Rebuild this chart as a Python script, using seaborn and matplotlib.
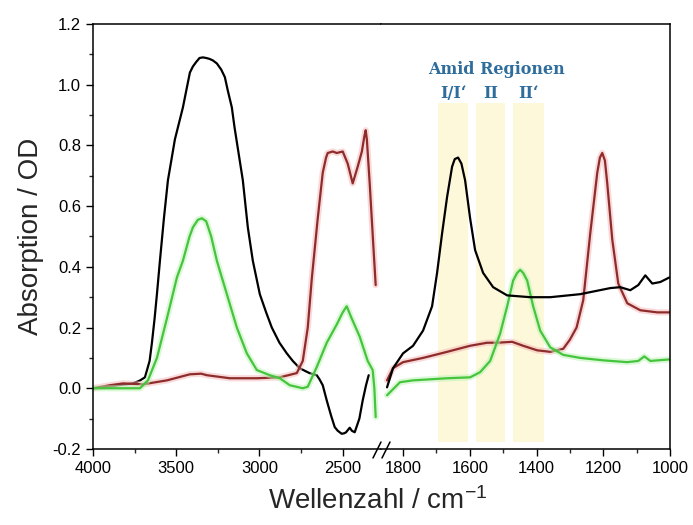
import numpy as np
import pandas as pd
import matplotlib
matplotlib.use("Agg")
import matplotlib.pyplot as plt
import matplotlib.patheffects as pe
from matplotlib.ticker import MultipleLocator, FormatStrFormatter
import seaborn as sns

# spectra, left part (4000 - 2300 cm-1)
black_l_x = [4000, 3900, 3850, 3760, 3720, 3688, 3660, 3646, 3630, 3616, 3598, 3574, 3550, 3508, 3460,
             3440, 3418, 3400, 3380, 3360, 3340, 3320, 3300, 3280, 3256, 3230, 3208, 3190, 3166, 3150,
             3130, 3100, 3070, 3040, 2998, 2960, 2926, 2880, 2836, 2800, 2758, 2700, 2656, 2640, 2620,
             2596, 2570, 2548, 2530, 2506, 2490, 2480, 2458, 2445, 2428, 2400, 2380, 2360, 2344]
black_l_y = [0.0, 0.005, 0.01, 0.016, 0.025, 0.036, 0.09, 0.15, 0.23, 0.31, 0.42, 0.56, 0.685, 0.82, 0.925,
             0.98, 1.04, 1.06, 1.075, 1.088, 1.09, 1.088, 1.085, 1.08, 1.07, 1.05, 1.025, 0.98, 0.925, 0.86,
             0.79, 0.685, 0.53, 0.42, 0.31, 0.25, 0.2, 0.15, 0.115, 0.09, 0.066, 0.05, 0.043, 0.03, 0.01,
             -0.04, -0.09, -0.128, -0.14, -0.15, -0.148, -0.145, -0.13, -0.14, -0.145, -0.1, -0.04, 0.01, 0.043]

green_l_x = [4000, 3850, 3718, 3670, 3616, 3556, 3496, 3460, 3420, 3400, 3370, 3346, 3320, 3290, 3256,
             3196, 3136, 3076, 3016, 2938, 2878, 2818, 2740, 2710, 2656, 2596, 2536, 2500, 2476, 2446,
             2398, 2350, 2320, 2310, 2302]
green_l_y = [0.0, 0.0, 0.0, 0.026, 0.1, 0.23, 0.365, 0.42, 0.5, 0.53, 0.555, 0.56, 0.55, 0.5, 0.42,
             0.31, 0.2, 0.115, 0.06, 0.043, 0.033, 0.01, 0.0, 0.005, 0.07, 0.15, 0.21, 0.25, 0.27, 0.23,
             0.17, 0.09, 0.06, 0.0, -0.095]

red_l_x = [4000, 3898, 3820, 3700, 3556, 3418, 3350, 3316, 3178, 3016, 2878, 2776, 2740, 2710, 2686,
           2650, 2620, 2600, 2590, 2560, 2536, 2500, 2470, 2440, 2410, 2385, 2370, 2362, 2355, 2338,
           2314, 2302]
red_l_y = [0.0, 0.01, 0.016, 0.013, 0.026, 0.046, 0.048, 0.043, 0.033, 0.033, 0.036, 0.05, 0.09, 0.2, 0.36,
           0.56, 0.71, 0.76, 0.775, 0.78, 0.775, 0.78, 0.74, 0.675, 0.73, 0.78, 0.83, 0.85, 0.82, 0.675,
           0.45, 0.34]

# right part (1850 - 1000 cm-1)
black_r_x = [1848, 1830, 1800, 1770, 1740, 1713, 1698, 1683, 1668, 1653, 1645, 1635, 1625, 1614, 1599,
             1584, 1560, 1530, 1488, 1419, 1359, 1269, 1179, 1149, 1119, 1095, 1074, 1053, 1029, 1002]
black_r_y = [0.003, 0.066, 0.115, 0.14, 0.19, 0.27, 0.38, 0.51, 0.63, 0.73, 0.755, 0.76, 0.74, 0.685, 0.56,
             0.455, 0.38, 0.333, 0.306, 0.30, 0.30, 0.31, 0.33, 0.333, 0.323, 0.34, 0.372, 0.345, 0.35, 0.365]

red_r_x = [1848, 1830, 1800, 1740, 1668, 1599, 1548, 1518, 1473, 1440, 1398, 1359, 1320, 1300, 1280,
           1260, 1239, 1218, 1210, 1203, 1195, 1188, 1173, 1155, 1128, 1089, 1038, 1002]
red_r_y = [0.026, 0.066, 0.086, 0.1, 0.12, 0.14, 0.15, 0.15, 0.153, 0.14, 0.125, 0.12, 0.13, 0.16, 0.2,
           0.29, 0.51, 0.71, 0.76, 0.775, 0.75, 0.675, 0.49, 0.345, 0.28, 0.257, 0.25, 0.25]

green_r_x = [1848, 1809, 1770, 1668, 1599, 1569, 1539, 1509, 1488, 1470, 1458, 1449, 1440, 1428, 1410,
             1389, 1359, 1320, 1269, 1200, 1128, 1095, 1077, 1059, 1002]
green_r_y = [-0.023, 0.02, 0.026, 0.033, 0.036, 0.053, 0.09, 0.18, 0.27, 0.355, 0.38, 0.39, 0.38, 0.355, 0.27,
             0.19, 0.135, 0.11, 0.1, 0.092, 0.086, 0.09, 0.105, 0.09, 0.095]

# amide regions
band_start = [1695, 1581, 1470]
band_end = [1605, 1494, 1377]
band_labels = ["I/I\u2018", "II", "II\u2018"]

sns.set_style("ticks")
plt.rcParams['font.family'] = ['Liberation Sans', 'DejaVu Sans']
plt.rcParams['mathtext.default'] = 'regular'

fig = plt.figure(figsize=(6.93, 5.25), dpi=100)
axl = fig.add_axes([0.1342, 0.1448, 0.4156, 0.8095])
axr = fig.add_axes([0.5498, 0.1448, 0.4170, 0.8095])

def glow(col):
    return [pe.Stroke(linewidth=4.5, foreground=col, alpha=0.5), pe.Normal()]

red = '#8e2c2c'
green = '#46c43e'

sns.lineplot(x=black_l_x, y=black_l_y, ax=axl, color='black', lw=1.6, sort=False, estimator=None)
sns.lineplot(x=red_l_x, y=red_l_y, ax=axl, color=red, lw=1.6, sort=False, estimator=None,
             path_effects=glow('#f4b4b4'))
sns.lineplot(x=green_l_x, y=green_l_y, ax=axl, color=green, lw=1.6, sort=False, estimator=None,
             path_effects=glow('#b9f2b0'))

for s, e in zip(band_start, band_end):
    axr.axvspan(s, e, ymin=(-0.178 + 0.2) / 1.4, ymax=(0.94 + 0.2) / 1.4, color='#fdf8da', lw=0, zorder=0)

sns.lineplot(x=red_r_x, y=red_r_y, ax=axr, color=red, lw=1.6, sort=False, estimator=None,
             path_effects=glow('#f4b4b4'))
sns.lineplot(x=green_r_x, y=green_r_y, ax=axr, color=green, lw=1.6, sort=False, estimator=None,
             path_effects=glow('#b9f2b0'))
sns.lineplot(x=black_r_x, y=black_r_y, ax=axr, color='black', lw=1.6, sort=False, estimator=None)

for ax in (axl, axr):
    ax.set_ylim(-0.2, 1.2)
    ax.tick_params(which='major', direction='out', length=5, width=1, labelsize=12, colors='black')
    ax.tick_params(which='minor', direction='out', length=3, width=1)
    for sp in ax.spines.values():
        sp.set_linewidth(1.1)
        sp.set_color('black')

axl.set_xlim(4000, 2270)
axl.xaxis.set_major_locator(MultipleLocator(500))
axl.xaxis.set_minor_locator(MultipleLocator(250))
axl.yaxis.set_major_locator(MultipleLocator(0.2))
axl.yaxis.set_minor_locator(MultipleLocator(0.1))
axl.yaxis.set_major_formatter(FormatStrFormatter('%.1f'))
axl.spines['right'].set_visible(False)

axr.set_xlim(1866, 1000)
axr.xaxis.set_major_locator(MultipleLocator(200))
axr.xaxis.set_minor_locator(MultipleLocator(100))
axr.spines['left'].set_visible(False)
axr.tick_params(axis='y', which='both', left=False, labelleft=False)

axl.set_ylabel('Absorption / OD', fontsize=20, labelpad=6)
fig.text(0.545, 0.03, 'Wellenzahl / cm$^{-1}$', fontsize=20, ha='center', va='baseline')

# amide labels
lab_col = '#2e6d9c'
axr.text(1521, 1.05, 'Amid Regionen', ha='center', va='center', fontsize=11.5,
         fontweight='bold', family='DejaVu Serif', color=lab_col)
for s, e, lab in zip(band_start, band_end, band_labels):
    axr.text((s + e) / 2, 0.97, lab, ha='center', va='center', fontsize=11.5,
             fontweight='bold', family='DejaVu Serif', color=lab_col)

# axis break marks
for xc in (377, 386):
    fig.add_artist(plt.Line2D([(xc - 4) / 693, (xc + 4) / 693], [1 - 458 / 525, 1 - 442 / 525],
                              transform=fig.transFigure, color='black', lw=1.1))

fig.savefig('out.png', dpi=100)
